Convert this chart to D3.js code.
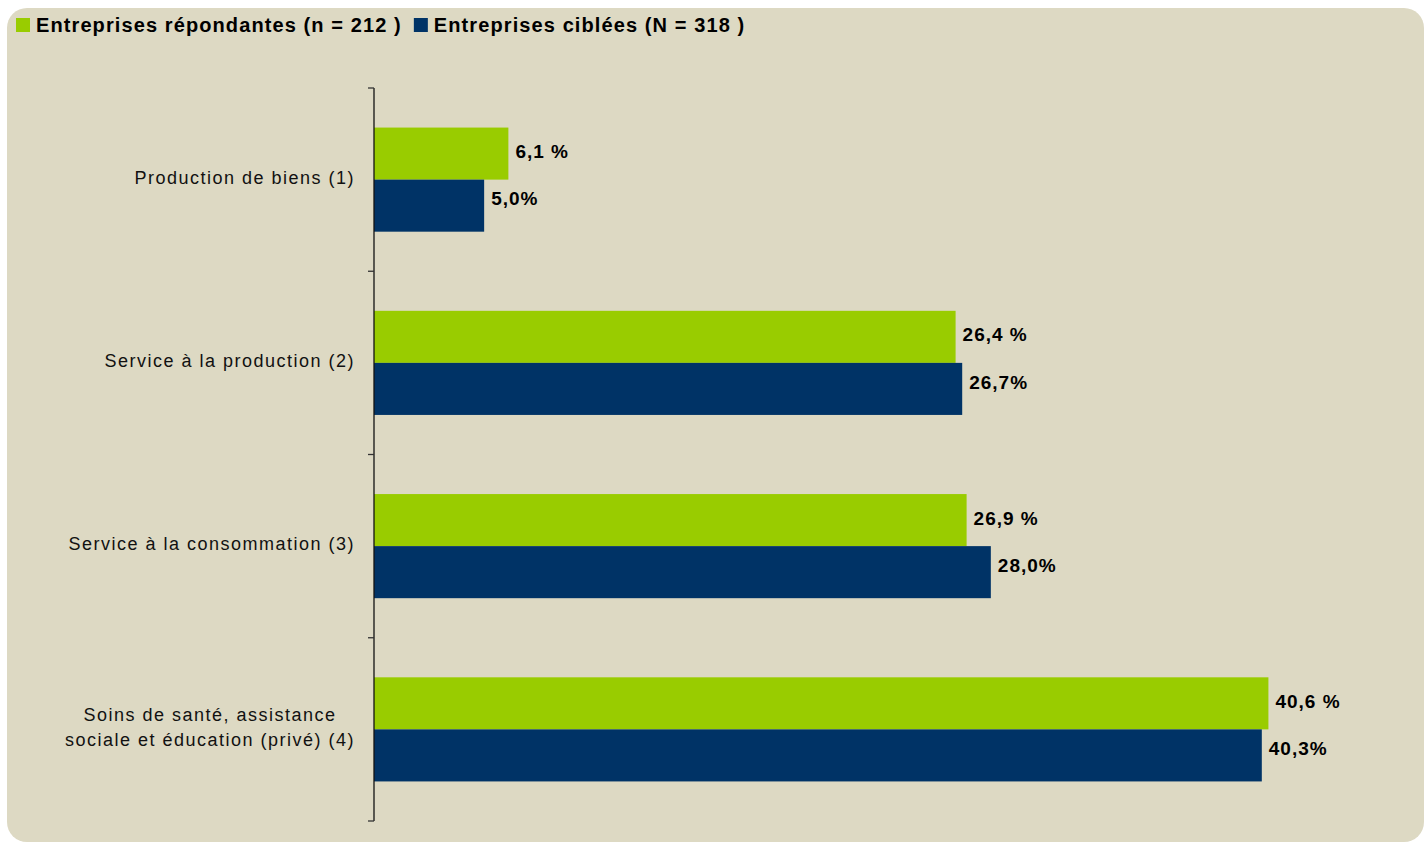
<!DOCTYPE html>
<html>
<head>
<meta charset="utf-8">
<script src="https://d3js.org/d3.v7.min.js"></script>
<style>
  body { margin: 0; background: #ffffff; }
  svg { display: block; font-family: "Liberation Sans", Arial, sans-serif; }
</style>
</head>
<body>
<script>
// data
var categories = [
    ["Production de biens (1)"],
    ["Service à la production (2)"],
    ["Service à la consommation (3)"],
    ["Soins de santé, assistance", "sociale et éducation (privé) (4)"]
];
var repondantes = [6.1, 26.4, 26.9, 40.6];
var ciblees = [5.0, 26.7, 28.0, 40.3];
var repondantesLabels = ["6,1 %", "26,4 %", "26,9 %", "40,6 %"];
var cibleesLabels = ["5,0%", "26,7%", "28,0%", "40,3%"];
var seriesNames = ["Entreprises répondantes (n = 212 )", "Entreprises ciblées (N = 318 )"];
var seriesColors = ["#99cc00", "#003366"];

var width = 1426, height = 842;
var plot = {left: 374, top: 88, bottom: 821};

var svg = d3.select("body").append("svg")
    .attr("width", width)
    .attr("height", height);

// fond arrondi
svg.append("rect")
    .attr("x", 7)
    .attr("y", 8)
    .attr("width", 1417)
    .attr("height", 834)
    .attr("rx", 20)
    .style("fill", "#ddd9c3");

var x = d3.scaleLinear().domain([0, 45]).range([plot.left, plot.left + 45 * 22.03]);

var y = d3.scaleBand()
    .domain(d3.range(categories.length))
    .range([plot.top, plot.bottom]);

var sub = d3.scaleBand()
    .domain([0, 1])
    .range([0, y.bandwidth()])
    .paddingOuter(0.76);

// barres
var groups = svg.selectAll(".grp")
    .data(categories)
    .enter().append("g")
    .attr("class", "grp")
    .attr("transform", function(d, i) { return "translate(0," + y(i) + ")"; });

var series = [repondantes, ciblees];
var labels = [repondantesLabels, cibleesLabels];

series.forEach(function(vals, s) {
    groups.append("rect")
        .attr("x", x(0))
        .attr("y", sub(s))
        .attr("width", function(d, i) { return x(vals[i]) - x(0); })
        .attr("height", sub.bandwidth())
        .style("fill", seriesColors[s]);

    groups.append("text")
        .attr("x", function(d, i) { return x(vals[i]) + 7; })
        .attr("y", sub(s) + sub.bandwidth() / 2 - (s == 1 ? 7 : 2))
        .attr("dy", "0.35em")
        .attr("font-size", "19px")
        .attr("font-weight", "bold")
        .attr("letter-spacing", "1px")
        .style("fill", "#000")
        .text(function(d, i) { return labels[s][i]; });
});

// axe
var ax = svg.append("g")
    .attr("transform", "translate(" + plot.left + ",0)");
ax.append("line")
    .attr("y1", plot.top).attr("y2", plot.bottom)
    .style("stroke", "#111").style("stroke-width", 1.3);
ax.selectAll(".tk")
    .data(d3.range(categories.length + 1))
    .enter().append("line")
    .attr("x1", -6).attr("x2", 0)
    .attr("y1", function(d) { return d < categories.length ? y(d) : plot.bottom; })
    .attr("y2", function(d) { return d < categories.length ? y(d) : plot.bottom; })
    .style("stroke", "#333").style("stroke-width", 1.3);

// libellés des catégories
var labelRight = 355;
groups.each(function(lines, i) {
    var g = d3.select(this);
    var t = g.append("text")
        .attr("font-size", "18px")
        .attr("letter-spacing", "1.5px")
        .style("fill", "#111");
    var n = lines.length;
    lines.forEach(function(line, k) {
        t.append("tspan")
            .attr("x", 0)
            .attr("y", y.bandwidth() / 2 - 2 + (k - (n - 1) / 2) * 25)
            .attr("dy", "0.35em")
            .text(line);
    });
    // centrer les lignes, bord droit à labelRight
    var w = t.node().getBBox().width;
    t.attr("text-anchor", "middle")
        .attr("transform", "translate(" + (labelRight - w / 2) + ",0)");
});

// légende
var leg = svg.append("g").attr("transform", "translate(16,25)");
var lx = 0;
seriesNames.forEach(function(name, s) {
    leg.append("rect")
        .attr("x", lx).attr("y", -7)
        .attr("width", 14).attr("height", 14)
        .style("fill", seriesColors[s]);
    var t = leg.append("text")
        .attr("x", lx + 20)
        .attr("dy", "0.35em")
        .attr("font-size", "20px")
        .attr("font-weight", "bold")
        .attr("letter-spacing", "1.1px")
        .style("fill", "#000")
        .text(name);
    lx += 20 + t.node().getComputedTextLength() + 12;
});
</script>
</body>
</html>
